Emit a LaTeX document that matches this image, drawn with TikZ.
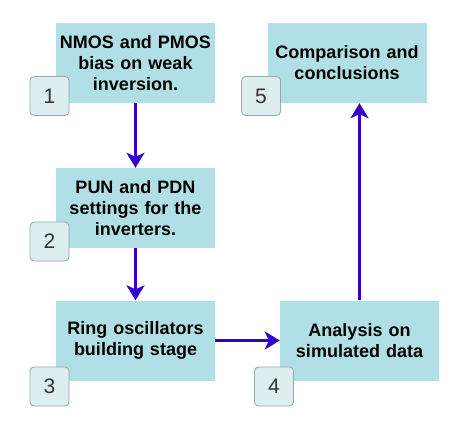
\documentclass[tikz,border=0pt]{standalone}
\usepackage{fontspec}
\setmainfont{Liberation Sans}
\usetikzlibrary{arrows.meta}

\definecolor{stepfill}{HTML}{B0E0E6}
\definecolor{badgefill}{HTML}{DDEEF0}
\definecolor{badgeline}{HTML}{9AA5A7}
\definecolor{flowblue}{HTML}{3300CC}

\tikzset{
    stepbox/.style={fill=stepfill, minimum width=159pt, minimum height=80pt,
        inner sep=0pt, align=center, text width=155pt,
        font=\fontsize{18}{21}\selectfont\bfseries},
    badge/.style={fill=badgefill, draw=badgeline, line width=0.8pt,
        rounded corners=4pt, minimum width=39pt, minimum height=39pt,
        inner sep=0pt, font=\fontsize{21}{24}\selectfont, text=black!80},
    flow/.style={draw=flowblue, line width=3.2pt,
        -{Stealth[length=15pt,width=18pt,inset=4pt]}}
}

\begin{document}
\begin{tikzpicture}[x=1pt,y=-1pt]
            \useasboundingbox (0,0) rectangle (457,420);

            \node[stepbox] (bias) at (135.5,63) {NMOS and PMOS\\bias on weak\\inversion.};
            \node[stepbox] (pun) at (135.5,208) {PUN and PDN\\settings for the\\inverters.};
            \node[stepbox] (ring) at (135.5,340.5) {Ring oscillators\\building stage};
            \node[stepbox] (analysis) at (359.5,340.5) {Analysis on\\simulated data};
            \node[stepbox] (compare) at (347,63) {Comparison and\\conclusions};

            \node[badge] (n1) at (49.5,96) {1};
            \node[badge] (n2) at (49.5,241.5) {2};
            \node[badge] (n3) at (49.5,386.5) {3};
            \node[badge] (n4) at (274,386.5) {4};
            \node[badge] (n5) at (261,96) {5};

            \draw[flow] (bias) -- (pun);
            \draw[flow] (pun) -- (ring);
            \draw[flow] (ring) -- (analysis);
            \draw[flow] (analysis.north) -- (analysis.north |- compare.south);
\end{tikzpicture}
\end{document}
